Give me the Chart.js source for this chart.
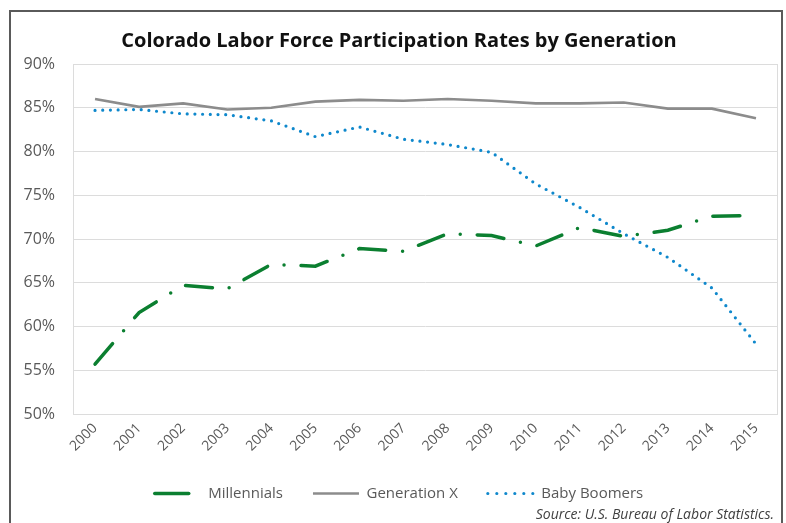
<!DOCTYPE html>
<html>
<head>
<meta charset="utf-8">
<script src="https://cdn.jsdelivr.net/npm/chart.js@4"></script>
<style>
  html, body { margin: 0; padding: 0; background: #fff; }
  body { width: 786px; height: 523px; position: relative; overflow: hidden; }
  .frame {
    position: absolute; left: 9px; top: 10px; width: 774px; height: 540px;
    border: 2px solid #5a5a5a; box-sizing: border-box;
  }
  .wrap { position: absolute; left: 0; top: 0; width: 786px; height: 523px; }
  .source {
    position: absolute; right: 12px; top: 504px;
    font: italic 14px "Open Sans", sans-serif; color: #404040;
  }
</style>
</head>
<body>
<div class="frame"></div>
<div class="wrap"><canvas id="chart"></canvas></div>
<div class="source">Source: U.S. Bureau of Labor Statistics.</div>
<script>
const years = ["2000", "2001", "2002", "2003", "2004", "2005", "2006", "2007",
  "2008", "2009", "2010", "2011", "2012", "2013", "2014", "2015"];
const millennials = [55.7, 61.6, 64.7, 64.3, 67.1, 66.9, 68.9, 68.6,
  70.6, 70.4, 69.2, 71.3, 70.3, 71.0, 72.6, 72.7];
const genX = [86.0, 85.1, 85.5, 84.8, 85.0, 85.7, 85.9, 85.8,
  86.0, 85.8, 85.5, 85.5, 85.6, 84.9, 84.9, 83.8];
const boomers = [84.7, 84.8, 84.3, 84.2, 83.5, 81.7, 82.8, 81.4,
  80.8, 79.9, 76.3, 73.6, 70.6, 67.9, 64.4, 58.0];

const GREEN = "#0b7f30";
const GRAY = "#8c8c8c";
const BLUE = "#0f88cc";
const GRID = "#dcdcdc";
const TICK = "#595959";

// light frame round the plot area
const plotFrame = {
  id: "plotFrame",
  beforeDatasetsDraw(chart) {
    const { ctx, chartArea: a } = chart;
    ctx.save();
    ctx.strokeStyle = GRID;
    ctx.lineWidth = 1;
    ctx.strokeRect(a.left + 0.5, a.top + 0.5, a.right - a.left - 1, a.bottom - a.top);
    ctx.restore();
  },
};

// legend samples as in the original: one dash, a solid line, six dots
const legendDash = [[34, 100], [], [0, 9]];

new Chart(document.getElementById("chart"), {
  type: "line",
  data: {
    labels: years,
    datasets: [
      {
        label: "Millennials",
        data: millennials,
        borderColor: GREEN,
        borderWidth: 3.5,
        borderDash: [27, 17, 0, 17],
        borderCapStyle: "round",
        pointRadius: 0,
        tension: 0,
      },
      {
        label: "Generation X",
        data: genX,
        borderColor: GRAY,
        borderWidth: 2.6,
        pointRadius: 0,
        tension: 0,
      },
      {
        label: "Baby Boomers",
        data: boomers,
        borderColor: BLUE,
        borderWidth: 3.2,
        borderDash: [0, 7.7],
        borderCapStyle: "round",
        pointRadius: 0,
        tension: 0,
      },
    ],
  },
  options: {
    responsive: true,
    maintainAspectRatio: false,
    animation: false,
    layout: { padding: { left: 20, right: 8, top: 0, bottom: 12 } },
    plugins: {
      title: {
        display: true,
        text: "Colorado Labor Force Participation Rates by Generation",
        color: "#111",
        font: { family: "'Open Sans', sans-serif", size: 20, weight: "bold" },
        padding: { top: 29, bottom: 11 },
      },
      legend: {
        position: "bottom",
        labels: {
          usePointStyle: true,
          pointStyle: "line",
          pointStyleWidth: 46,
          padding: 30,
          color: TICK,
          font: { family: "'Open Sans', sans-serif", size: 15 },
          generateLabels(chart) {
            return chart.data.datasets.map((ds, i) => ({
              text: ds.label,
              datasetIndex: i,
              strokeStyle: ds.borderColor,
              fillStyle: ds.borderColor,
              fontColor: TICK,
              lineWidth: ds.borderWidth,
              lineDash: legendDash[i],
              lineCap: i === 1 ? "butt" : "round",
              pointStyle: "line",
              hidden: false,
            }));
          },
        },
      },
      tooltip: { enabled: false },
    },
    scales: {
      x: {
        offset: true,
        grid: { display: false, drawTicks: false },
        border: { display: false },
        ticks: {
          color: TICK,
          font: { family: "'Open Sans', sans-serif", size: 14 },
          minRotation: 45,
          maxRotation: 45,
          padding: 6,
        },
        afterFit(scale) { scale.height = 42; },
      },
      y: {
        min: 50,
        max: 90,
        grid: { color: GRID, lineWidth: 1, drawTicks: false },
        border: { display: false },
        ticks: {
          stepSize: 5,
          color: TICK,
          padding: 18,
          font: { family: "'Open Sans', sans-serif", size: 16 },
          callback: (v) => v + "%",
        },
        afterFit(scale) { scale.width = 53; },
      },
    },
  },
  plugins: [plotFrame],
});
</script>
</body>
</html>
